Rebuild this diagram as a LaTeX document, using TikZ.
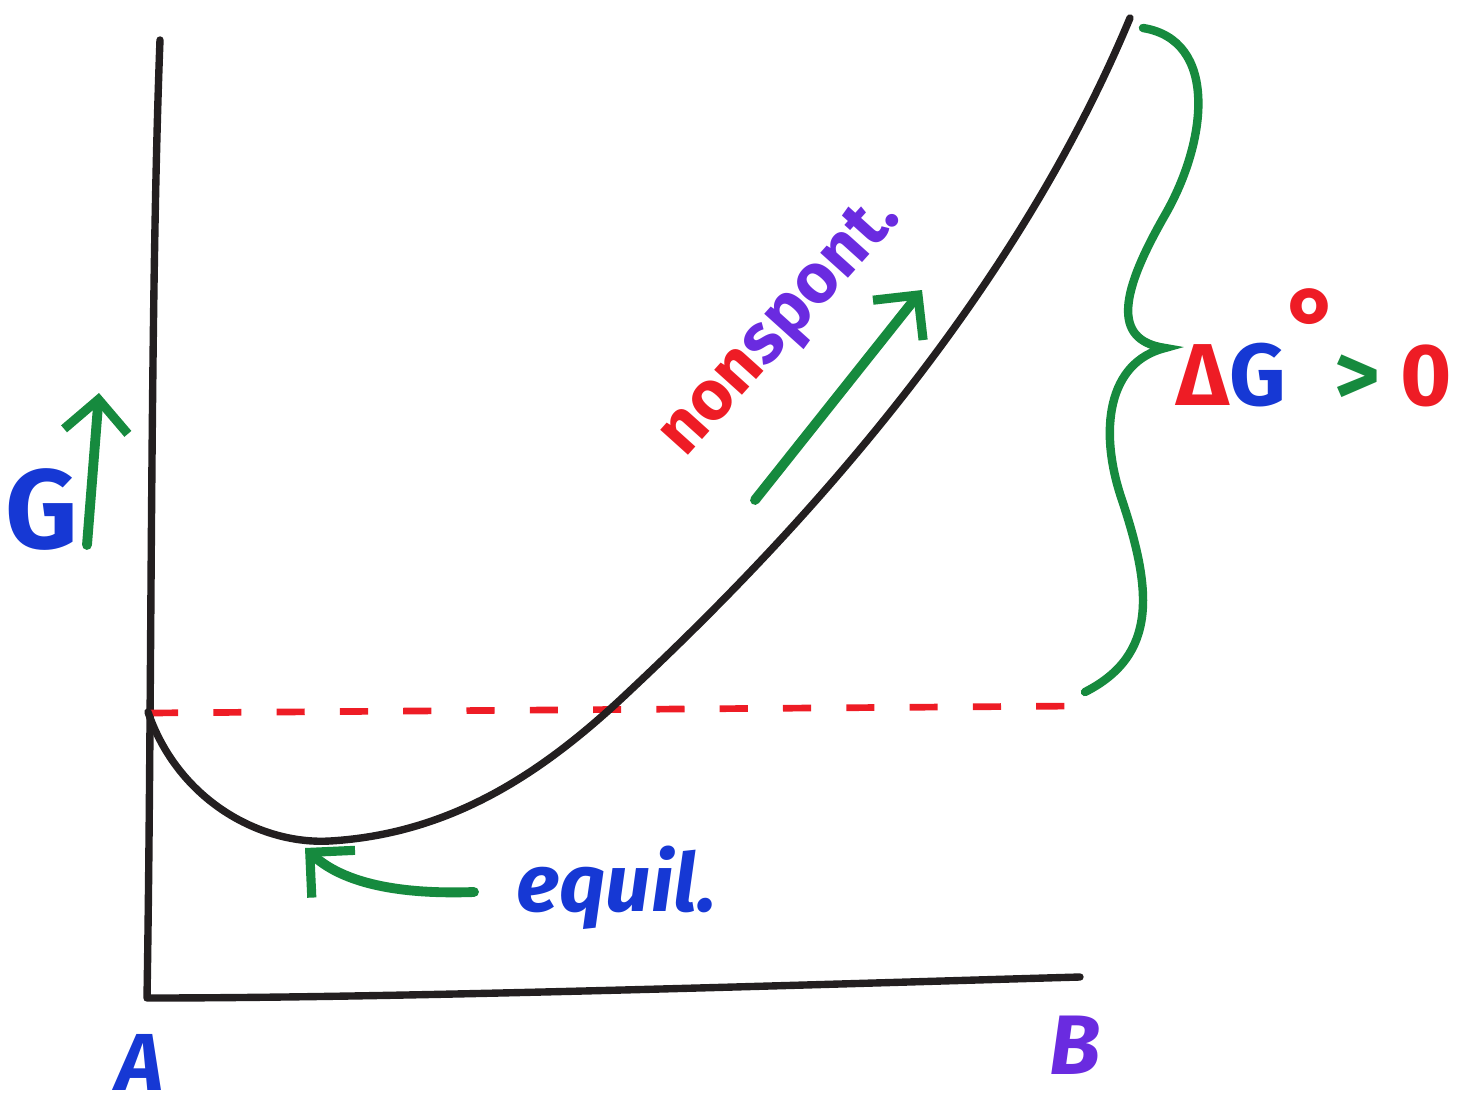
\documentclass[tikz,border=0pt]{standalone}
\usepackage{fontspec}
\setmainfont{Fira Sans}
\usetikzlibrary{arrows.meta,calc,positioning}
\definecolor{MarkInk}{HTML}{231F20}
\definecolor{MarkGreen}{HTML}{168A3E}
\definecolor{MarkBlue}{HTML}{1638D4}
\definecolor{MarkRed}{HTML}{EE1C25}
\definecolor{MarkPurple}{HTML}{6A2BE0}
\tikzset{
  ink/.style={
    draw=MarkInk,
    line width=2.1pt,
    line cap=round,
    line join=round
  },
  pointer/.style={
    -{Straight Barb[length=3.2mm,width=6.4mm,line width=2.6pt]},
    draw=MarkGreen,
    line width=2.8pt,
    line cap=round
  },
  brace/.style={
    draw=MarkGreen,
    line width=2.4pt,
    line cap=round
  },
  level/.style={
    draw=MarkRed,
    line width=1.9pt,
    dash pattern=on 8pt off 10pt
  },
  label/.style={
    font=\fontsize{30}{32}\selectfont\bfseries,
    inner sep=0pt
  }
}

\begin{document}
\begin{tikzpicture}[x=0.01cm,y=-0.01cm]
  \useasboundingbox (0,0) rectangle (1478,1109);

  % Axes, drawn by hand: G up the left, composition along the bottom.
  \coordinate (ytop) at (160,40);
  \coordinate (origin) at (147,998);
  \coordinate (xend) at (1080,977);
  \draw[ink] (ytop) .. controls (150,300) and (152,700) .. (origin)
    .. controls (400,998) and (800,985) .. (xend);

  % Reference level G(A) carried across to B.
  \coordinate (levA) at (150,713);
  \coordinate (levB) at (1078,706);
  \draw[level] (levA) -- (levB);

  % Free energy along the reaction coordinate.
  \coordinate (eqmin) at (305,848);
  \draw[ink] (148,712) .. controls (178,800) and (260,845) .. (330,841)
    .. controls (450,834) and (540,774) .. (620,700)
    .. controls (755,574) and (1000,330) .. (1130,18);

  % Axis labels.
  \node[label,text=MarkBlue,font=\fontsize{32}{34}\selectfont\bfseries]
    (glabel) at (42,510) {G};
  \coordinate (gtail) at (87,545);
  \coordinate (ghead) at (99,393);
  \draw[pointer] (gtail) -- (ghead);
  \node[label,text=MarkBlue,font=\fontsize{23}{25}\selectfont\bfseries\itshape]
    (alabel) at (140,1062) {A};
  \node[label,text=MarkPurple,font=\fontsize{24}{26}\selectfont\bfseries\itshape]
    (blabel) at (1075,1045) {B};

  % Minimum of the curve.
  \node[label,text=MarkBlue,font=\fontsize{23}{25}\selectfont\bfseries\itshape,
    anchor=west] (equil) at (516,888) {equil.};
  \draw[pointer] ($(equil.west)+(-42,4)$) .. controls (390,895) and (340,880)
    .. (eqmin);

  % Uphill direction.
  \node[label,rotate=48,font=\fontsize{20}{22}\selectfont\bfseries]
    (nonspont) at (782,328)
    {\textcolor{MarkRed}{non}\textcolor{MarkPurple}{spont.}};
  \coordinate (uptail) at (755,500);
  \coordinate (uphead) at (922,290);
  \draw[pointer] (uptail) -- (uphead);

  % Brace from the level of A up to the end of the curve.
  \coordinate (bracetop) at (1143,28);
  \coordinate (bracetip) at (1165,348);
  \coordinate (bracebot) at (1085,692);
  \draw[brace] (bracetop) .. controls (1218,40) and (1208,140) .. (1165,215)
    .. controls (1122,290) and (1110,340) .. (bracetip)
    .. controls (1108,362) and (1098,430) .. (1122,500)
    .. controls (1152,590) and (1158,655) .. (bracebot);
  \node[label,anchor=west,font=\fontsize{25}{27}\selectfont\bfseries]
    (dgzero) at (1176,348)
    {\textcolor{MarkRed}{Δ}\textcolor{MarkBlue}{G}\textcolor{MarkRed}{\raisebox{0.9ex}{\fontsize{30}{30}\selectfont°}}\hspace{-2pt}\textcolor{MarkGreen}{>}\hspace{6pt}\textcolor{MarkRed}{0}};
\end{tikzpicture}
\end{document}
